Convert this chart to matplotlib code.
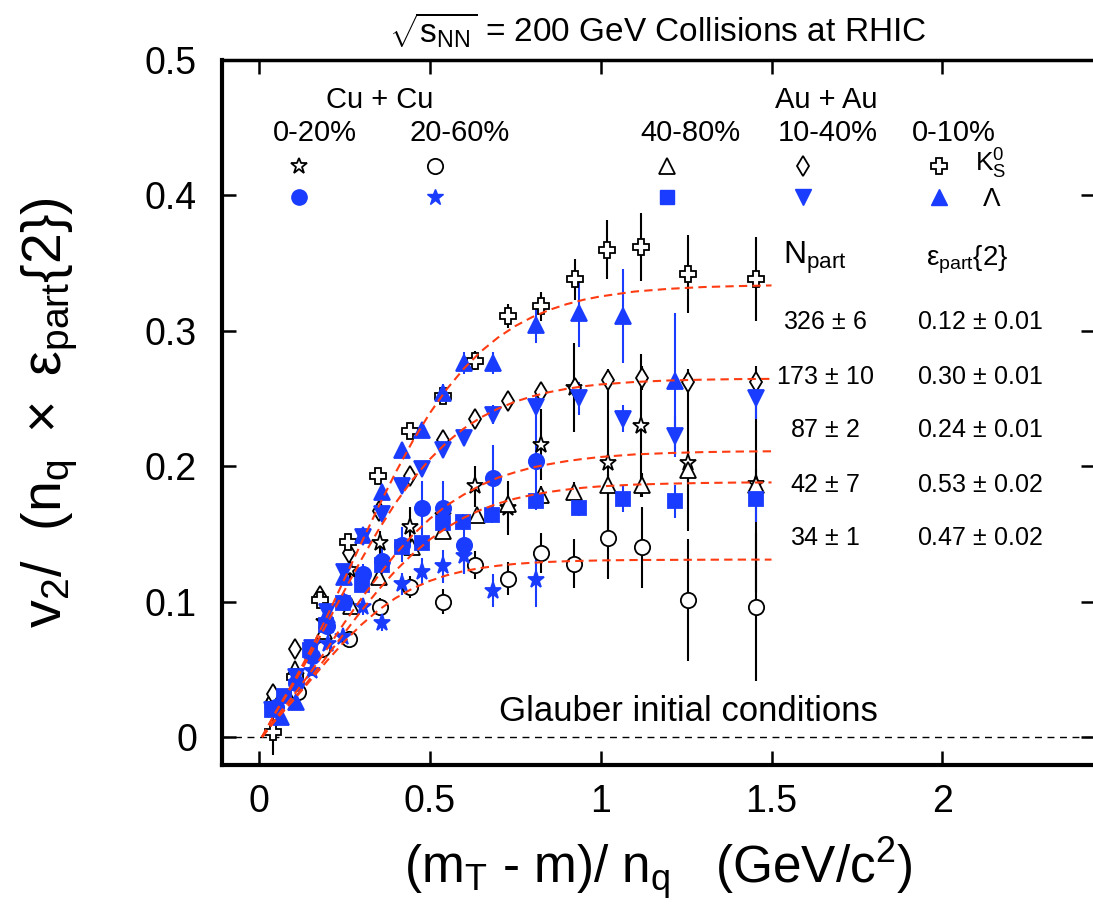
import matplotlib
matplotlib.use("Agg")
import matplotlib.pyplot as plt

# ---- data: x = (m_T - m)/n_q, y = v2/(n_q*eps_part{2}) ----
# Au+Au 0-10%
au010_k_x = [0.043, 0.106, 0.18, 0.262, 0.35, 0.443, 0.54, 0.633, 0.73, 0.826, 0.925, 1.02, 1.118, 1.256, 1.455]
au010_k_y = [0.004, 0.044, 0.101, 0.144, 0.193, 0.226, 0.252, 0.278, 0.311, 0.318, 0.338, 0.36, 0.362, 0.342, 0.338]
au010_k_e = [0.017, 0.004, 0.004, 0.004, 0.005, 0.005, 0.006, 0.007, 0.009, 0.011, 0.015, 0.022, 0.025, 0.029, 0.031]
au010_l_x = [0.065, 0.11, 0.156, 0.2, 0.25, 0.306, 0.36, 0.42, 0.478, 0.54, 0.6, 0.685, 0.81, 0.937, 1.066, 1.218]
au010_l_y = [0.015, 0.026, 0.064, 0.09, 0.118, 0.149, 0.181, 0.212, 0.227, 0.254, 0.276, 0.276, 0.304, 0.313, 0.311, 0.263]
au010_l_e = [0.004, 0.004, 0.004, 0.004, 0.005, 0.005, 0.005, 0.006, 0.006, 0.007, 0.008, 0.008, 0.013, 0.025, 0.035, 0.05]

# Au+Au 10-40%
au1040_k_x = [0.043, 0.107, 0.18, 0.263, 0.353, 0.443, 0.54, 0.633, 0.73, 0.826, 0.924, 1.023, 1.12, 1.257, 1.455]
au1040_k_y = [0.032, 0.065, 0.104, 0.136, 0.167, 0.193, 0.219, 0.235, 0.248, 0.255, 0.258, 0.264, 0.265, 0.262, 0.262]
au1040_k_e = [0.003, 0.003, 0.003, 0.003, 0.004, 0.004, 0.004, 0.005, 0.005, 0.006, 0.007, 0.008, 0.009, 0.01, 0.012]
au1040_l_x = [0.04, 0.11, 0.155, 0.2, 0.25, 0.306, 0.36, 0.42, 0.478, 0.54, 0.6, 0.685, 0.81, 0.938, 1.066, 1.218, 1.455]
au1040_l_y = [0.02, 0.044, 0.066, 0.092, 0.122, 0.148, 0.165, 0.185, 0.198, 0.212, 0.221, 0.238, 0.244, 0.25, 0.235, 0.222, 0.25]
au1040_l_e = [0.003, 0.003, 0.003, 0.004, 0.004, 0.004, 0.005, 0.005, 0.005, 0.006, 0.006, 0.007, 0.01, 0.012, 0.01, 0.015, 0.015]

# Au+Au 40-80%
au4080_k_x = [0.044, 0.106, 0.19, 0.27, 0.353, 0.448, 0.54, 0.638, 0.73, 0.826, 0.923, 1.023, 1.12, 1.257, 1.455]
au4080_k_y = [0.032, 0.05, 0.078, 0.097, 0.118, 0.14, 0.152, 0.164, 0.172, 0.179, 0.181, 0.186, 0.186, 0.197, 0.186]
au4080_k_e = [0.003, 0.003, 0.004, 0.004, 0.004, 0.005, 0.005, 0.005, 0.006, 0.006, 0.007, 0.008, 0.009, 0.01, 0.012]
au4080_l_x = [0.039, 0.073, 0.15, 0.197, 0.248, 0.303, 0.36, 0.419, 0.477, 0.538, 0.597, 0.684, 0.81, 0.938, 1.066, 1.218, 1.455]
au4080_l_y = [0.02, 0.03, 0.064, 0.083, 0.099, 0.112, 0.127, 0.14, 0.143, 0.158, 0.159, 0.164, 0.174, 0.169, 0.176, 0.174, 0.176]
au4080_l_e = [0.003, 0.003, 0.003, 0.004, 0.004, 0.004, 0.005, 0.005, 0.005, 0.005, 0.006, 0.006, 0.006, 0.006, 0.01, 0.012, 0.017]

# Cu+Cu 0-20%
cu020_k_x = [0.043, 0.11, 0.19, 0.268, 0.355, 0.443, 0.54, 0.633, 0.73, 0.826, 0.923, 1.023, 1.118, 1.257, 1.455]
cu020_k_y = [0.02, 0.045, 0.085, 0.123, 0.143, 0.155, 0.163, 0.185, 0.169, 0.216, 0.258, 0.202, 0.23, 0.202, 0.187]
cu020_k_e = [0.004, 0.004, 0.005, 0.006, 0.009, 0.015, 0.012, 0.015, 0.02, 0.026, 0.033, 0.06, 0.053, 0.05, 0.08]
cu020_l_x = [0.05, 0.11, 0.155, 0.2, 0.25, 0.305, 0.36, 0.42, 0.478, 0.54, 0.6, 0.685, 0.81]
cu020_l_y = [0.022, 0.04, 0.06, 0.082, 0.1, 0.12, 0.13, 0.142, 0.169, 0.169, 0.142, 0.191, 0.204]
cu020_l_e = [0.004, 0.004, 0.005, 0.005, 0.006, 0.008, 0.01, 0.013, 0.02, 0.02, 0.02, 0.025, 0.03]

# Cu+Cu 20-60%
cu2060_k_x = [0.043, 0.116, 0.185, 0.263, 0.355, 0.443, 0.539, 0.633, 0.73, 0.826, 0.923, 1.023, 1.12, 1.257, 1.455]
cu2060_k_y = [0.025, 0.033, 0.065, 0.072, 0.096, 0.111, 0.1, 0.127, 0.117, 0.136, 0.128, 0.147, 0.14, 0.101, 0.096]
cu2060_k_e = [0.005, 0.005, 0.005, 0.006, 0.007, 0.008, 0.009, 0.01, 0.012, 0.015, 0.018, 0.03, 0.03, 0.045, 0.055]
cu2060_l_x = [0.05, 0.11, 0.156, 0.204, 0.248, 0.306, 0.36, 0.419, 0.477, 0.539, 0.6, 0.685, 0.81]
cu2060_l_y = [0.02, 0.04, 0.049, 0.069, 0.074, 0.096, 0.084, 0.113, 0.122, 0.126, 0.134, 0.108, 0.116]
cu2060_l_e = [0.004, 0.004, 0.004, 0.005, 0.005, 0.006, 0.006, 0.008, 0.01, 0.012, 0.014, 0.012, 0.02]

# dashed fit curves, values read at fit_x
fit_x = [0.01, 0.05, 0.1, 0.15, 0.2, 0.25, 0.3, 0.35, 0.4, 0.45, 0.5, 0.55, 0.6, 0.65, 0.7,
         0.75, 0.8, 0.85, 0.9, 0.95, 1.0, 1.1, 1.2, 1.3, 1.4, 1.5]
fit_au010 = [0.0, 0.0185, 0.0397, 0.0633, 0.089, 0.1161, 0.1431, 0.1697, 0.195, 0.2182, 0.2389,
             0.2568, 0.272, 0.2847, 0.295, 0.3034, 0.3101, 0.3154, 0.3196, 0.3229, 0.3254,
             0.329, 0.331, 0.3323, 0.333, 0.3335]
fit_au1040 = [0.0, 0.018, 0.0383, 0.0604, 0.0838, 0.1076, 0.1308, 0.1527, 0.1726, 0.19, 0.205,
              0.2175, 0.2278, 0.236, 0.2425, 0.2476, 0.2516, 0.2547, 0.2571, 0.259, 0.2604,
              0.2622, 0.2633, 0.2639, 0.2643, 0.2645]
fit_cu020 = [0.0, 0.014, 0.03, 0.047, 0.065, 0.084, 0.102, 0.119, 0.135, 0.149, 0.161,
             0.171, 0.179, 0.186, 0.1915, 0.1955, 0.199, 0.2015, 0.2037, 0.2054, 0.2068,
             0.2087, 0.2097, 0.2104, 0.2108, 0.211]
fit_au4080 = [0.0, 0.0128, 0.0272, 0.0429, 0.0596, 0.0765, 0.093, 0.1085, 0.1227, 0.135, 0.1457,
              0.1546, 0.1619, 0.1678, 0.1724, 0.176, 0.1788, 0.181, 0.1827, 0.1841, 0.1851,
              0.1864, 0.1871, 0.1876, 0.1879, 0.188]
fit_cu2060 = [0.0, 0.0126, 0.0266, 0.0414, 0.0562, 0.0702, 0.0828, 0.0936, 0.1025, 0.1096, 0.1152,
              0.1194, 0.1225, 0.1248, 0.1265, 0.1278, 0.1287, 0.1293, 0.1298, 0.1301, 0.1304,
              0.1307, 0.1308, 0.1309, 0.131, 0.131]

npart_labels = [r"326 $\pm$ 6", r"173 $\pm$ 10", r"87 $\pm$ 2", r"42 $\pm$ 7", r"34 $\pm$ 1"]
ecc_labels = [r"0.12 $\pm$ 0.01", r"0.30 $\pm$ 0.01", r"0.24 $\pm$ 0.01", r"0.53 $\pm$ 0.02", r"0.47 $\pm$ 0.02"]

xticks = [0, 0.5, 1, 1.5, 2]
xtick_labels = ["0", "0.5", "1", "1.5", "2"]
yticks = [0, 0.1, 0.2, 0.3, 0.4, 0.5]
ytick_labels = ["0", "0.1", "0.2", "0.3", "0.4", "0.5"]

BLUE = "#1a3cff"
RED = "#ff3b12"
BLACK = "black"

plt.rcParams.update({
    "font.family": ["Liberation Sans", "DejaVu Sans"],
    "mathtext.fontset": "custom",
    "mathtext.rm": "Liberation Sans",
    "mathtext.it": "Liberation Sans:italic",
    "mathtext.bf": "Liberation Sans:bold",
})

fig = plt.figure(figsize=(10.93, 9.10), dpi=100)
ax = fig.add_axes([222 / 1093, 145 / 910, 873 / 1093, 705 / 910])

# marker styles for K0S (open, black) and Lambda (filled, blue)
series = [
    # x, y, err, marker, ms, open?
    (cu020_k_x, cu020_k_y, cu020_k_e, "*", 12.5, True),
    (cu2060_k_x, cu2060_k_y, cu2060_k_e, "o", 11, True),
    (au4080_k_x, au4080_k_y, au4080_k_e, "^", 12, True),
    (au1040_k_x, au1040_k_y, au1040_k_e, "d", 10, True),
    (au010_k_x, au010_k_y, au010_k_e, "P", 12, True),
    (cu020_l_x, cu020_l_y, cu020_l_e, "o", 11, False),
    (cu2060_l_x, cu2060_l_y, cu2060_l_e, "*", 12.5, False),
    (au4080_l_x, au4080_l_y, au4080_l_e, "s", 10, False),
    (au1040_l_x, au1040_l_y, au1040_l_e, "v", 12, False),
    (au010_l_x, au010_l_y, au010_l_e, "^", 12, False),
]

for x, y, e, mk, ms, is_open in series:
    col = BLACK if is_open else BLUE
    ax.errorbar(x, y, yerr=e, fmt=mk, ms=ms, mfc="white" if is_open else BLUE,
                mec=col, mew=1.3, ecolor=col, elinewidth=1.5, capsize=0, zorder=3)

for fy in [fit_au010, fit_au1040, fit_cu020, fit_au4080, fit_cu2060]:
    ax.plot(fit_x, fy, color=RED, lw=1.5, ls=(0, (4, 2.5)), zorder=5)

ax.axhline(0, color="black", lw=1.0, ls=(0, (5, 4)), zorder=1)

# legend block (manual, like the original)
leg_x = [0.0882, 0.2445, 0.5097, 0.6655, 0.8213]
k_marks = [("*", 12), ("o", 11), ("^", 12), ("d", 10), ("P", 12)]
l_marks = [("o", 11), ("*", 12), ("s", 10), ("v", 12), ("^", 12)]
for lx, (mk, ms) in zip(leg_x, k_marks):
    ax.plot([lx], [0.8496], mk, ms=ms, mfc="white", mec=BLACK, mew=1.3,
            transform=ax.transAxes, clip_on=False)
for lx, (mk, ms) in zip(leg_x, l_marks):
    ax.plot([lx], [0.8057], mk, ms=ms, color=BLUE, mec=BLUE,
            transform=ax.transAxes, clip_on=False)

lab_fs = 21
ax.text(0.181, 0.943, "Cu + Cu", transform=ax.transAxes, fontsize=lab_fs, ha="center", va="center")
ax.text(0.692, 0.943, "Au + Au", transform=ax.transAxes, fontsize=lab_fs, ha="center", va="center")
for tx, lab in zip([0.1065, 0.2726, 0.537, 0.6936, 0.8385],
                   ["0-20%", "20-60%", "40-80%", "10-40%", "0-10%"]):
    ax.text(tx, 0.896, lab, transform=ax.transAxes, fontsize=lab_fs, ha="center", va="center")
ax.text(0.862, 0.852, r"$\mathrm{K^0_S}$", transform=ax.transAxes, fontsize=19,
        ha="left", va="center")
ax.text(0.872, 0.803, "Λ", transform=ax.transAxes, fontsize=19, ha="left", va="center")

# N_part / eccentricity table
ax.text(0.6793, 0.7191, r"$\mathrm{N_{part}}$", transform=ax.transAxes, fontsize=23,
        ha="center", va="center")
ax.text(0.8534, 0.7163, r"$\mathrm{\varepsilon_{part}\{2\}}$", transform=ax.transAxes,
        fontsize=20, ha="center", va="center")
row_y = [0.6288, 0.5508, 0.4752, 0.3972, 0.322]
for ry, nl, el in zip(row_y, npart_labels, ecc_labels):
    ax.text(0.6907, ry, nl, transform=ax.transAxes, fontsize=18, ha="center", va="center")
    ax.text(0.8683, ry, el, transform=ax.transAxes, fontsize=18, ha="center", va="center")

ax.text(0.5338, 0.0752, "Glauber initial conditions", transform=ax.transAxes,
        fontsize=25, ha="center", va="center")

fig.text(0.602, 0.967, r"$\sqrt{\mathrm{s_{NN}}}$ = 200 GeV Collisions at RHIC",
         fontsize=24, ha="center", va="center")

ax.set_xlim(-0.107, 2.446)
ax.set_ylim(-0.0207, 0.5)
ax.set_xticks(xticks, labels=xtick_labels)
ax.set_yticks(yticks, labels=ytick_labels)
ax.tick_params(direction="in", length=10, width=1.8, labelsize=27, top=True, right=True)
ax.tick_params(axis="x", pad=14)
ax.tick_params(axis="y", pad=18)
for side, lw in [("left", 3.0), ("bottom", 3.0), ("top", 2.5), ("right", 2.5)]:
    ax.spines[side].set_linewidth(lw)

ax.set_xlabel(r"$\mathrm{(m_T}$ - $\mathrm{m)/\ n_q\ \ \ (GeV/c^2)}$", fontsize=37, labelpad=11)
ax.set_ylabel(r"$\mathrm{v_2/\ \ (n_q\ \times\ \varepsilon_{part}\{2\})}$", fontsize=40, labelpad=47)

fig.savefig("out.png", dpi=100)
